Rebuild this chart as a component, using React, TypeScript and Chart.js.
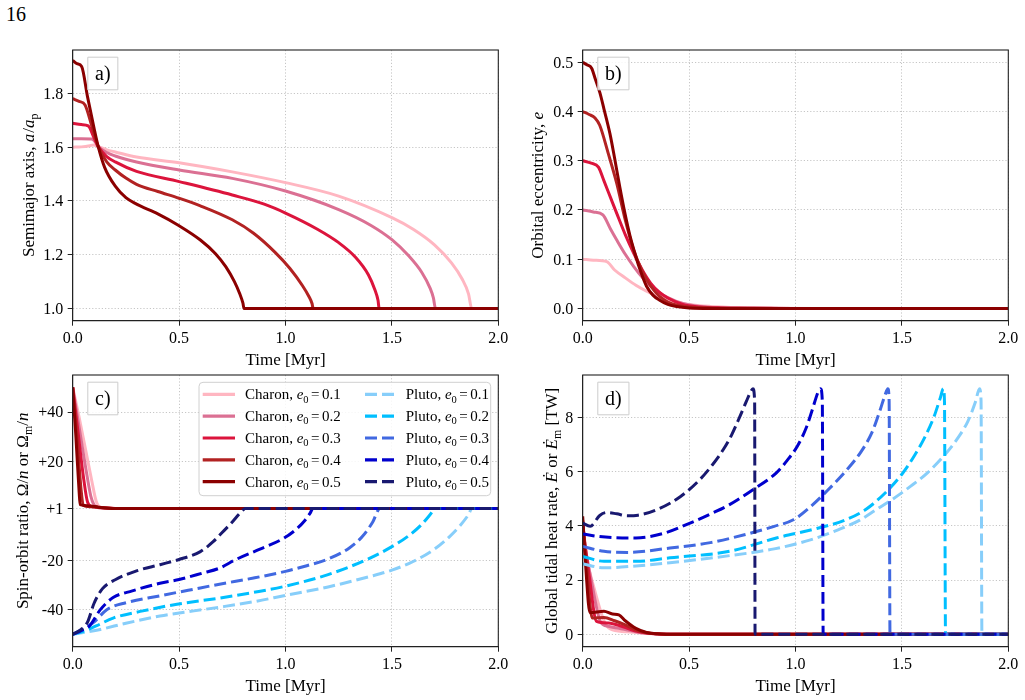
import React, { useEffect, useRef } from 'react';
import { Chart, registerables } from 'chart.js';

Chart.register(...registerables);

const FONT = "'Liberation Serif', 'Times New Roman', Times, serif";
Chart.defaults.font.family = FONT;

// ---------------- data ----------------
const E0_LABELS = ['0.1', '0.2', '0.3', '0.4', '0.5'];
const CHARON_COLORS = ['#FFB6C1', '#DB7093', '#DC143C', '#B22222', '#8B0000'];
const PLUTO_COLORS = ['#87CEFA', '#00BFFF', '#4169E1', '#0000CD', '#191970'];

const X_TICKS = [0, 0.5, 1, 1.5, 2];
const A_TICKS = [1.0, 1.2, 1.4, 1.6, 1.8];
const ECC_TICKS = [0, 0.1, 0.2, 0.3, 0.4, 0.5];
const SPIN_TICKS = [-40, -20, 1, 20, 40];
const HEAT_TICKS = [0, 2, 4, 6, 8];

// a) semimajor axis (Charon, e0 = 0.1 .. 0.5)
const SEMI_T = [
  [0, 0.04, 0.08, 0.097, 0.12, 0.16, 0.2, 0.3, 0.5, 0.75, 1.0, 1.25, 1.5, 1.6, 1.7, 1.78, 1.83, 1.86, 1.875, 2.0],
  [0, 0.04, 0.089, 0.105, 0.12, 0.16, 0.2, 0.3, 0.5, 0.75, 1.0, 1.25, 1.4, 1.5, 1.58, 1.64, 1.68, 1.695, 1.705, 2.0],
  [0, 0.04, 0.073, 0.1, 0.12, 0.16, 0.2, 0.3, 0.5, 0.75, 0.9, 1.0, 1.15, 1.25, 1.33, 1.39, 1.42, 1.435, 1.44, 2.0],
  [0, 0.03, 0.058, 0.09, 0.12, 0.16, 0.2, 0.25, 0.3, 0.4, 0.5, 0.6, 0.75, 0.85, 0.95, 1.02, 1.08, 1.11, 1.125, 1.13, 2.0],
  [0, 0.02, 0.042, 0.07, 0.1, 0.12, 0.15, 0.2, 0.25, 0.3, 0.4, 0.5, 0.6, 0.67, 0.72, 0.76, 0.785, 0.8, 0.805, 2.0],
];
const SEMI_A = [
  [1.6, 1.601, 1.605, 1.608, 1.602, 1.59, 1.582, 1.563, 1.542, 1.508, 1.468, 1.418, 1.338, 1.295, 1.237, 1.17, 1.11, 1.055, 1.0, 1.0],
  [1.631, 1.631, 1.63, 1.62, 1.602, 1.58, 1.567, 1.545, 1.515, 1.484, 1.437, 1.368, 1.31, 1.256, 1.195, 1.135, 1.075, 1.04, 1.0, 1.0],
  [1.689, 1.684, 1.679, 1.635, 1.602, 1.565, 1.545, 1.51, 1.472, 1.422, 1.388, 1.355, 1.295, 1.245, 1.19, 1.125, 1.07, 1.03, 1.0, 1.0],
  [1.78, 1.77, 1.757, 1.678, 1.602, 1.545, 1.515, 1.485, 1.462, 1.435, 1.41, 1.382, 1.33, 1.28, 1.21, 1.15, 1.085, 1.045, 1.018, 1.0, 1.0],
  [1.922, 1.91, 1.9, 1.786, 1.672, 1.602, 1.525, 1.455, 1.412, 1.388, 1.352, 1.308, 1.255, 1.205, 1.155, 1.1, 1.055, 1.02, 1.0, 1.0],
];

// b) orbital eccentricity
const ECC_T = [
  [0, 0.05, 0.113, 0.15, 0.2, 0.25, 0.3, 0.35, 0.4, 0.5, 0.6, 0.75, 0.9, 1.1, 2.0],
  [0, 0.05, 0.095, 0.13, 0.16, 0.2, 0.24, 0.28, 0.32, 0.36, 0.4, 0.47, 0.55, 0.65, 0.8, 1.0, 2.0],
  [0, 0.04, 0.074, 0.1, 0.13, 0.16, 0.2, 0.24, 0.28, 0.32, 0.36, 0.4, 0.47, 0.55, 0.65, 0.8, 1.0, 2.0],
  [0, 0.03, 0.058, 0.08, 0.12, 0.16, 0.2, 0.24, 0.28, 0.32, 0.36, 0.4, 0.45, 0.5, 0.6, 0.75, 1.0, 2.0],
  [0, 0.02, 0.042, 0.06, 0.081, 0.1, 0.128, 0.15, 0.175, 0.2, 0.222, 0.25, 0.27, 0.3, 0.33, 0.36, 0.4, 0.44, 0.5, 0.6, 1.0, 2.0],
];
const ECC_E = [
  [0.1, 0.098, 0.095, 0.078, 0.062, 0.047, 0.035, 0.025, 0.017, 0.008, 0.004, 0.0015, 0.0005, 0, 0],
  [0.2, 0.196, 0.19, 0.162, 0.139, 0.11, 0.085, 0.063, 0.045, 0.032, 0.022, 0.01, 0.004, 0.0015, 0.0004, 0, 0],
  [0.3, 0.295, 0.287, 0.259, 0.226, 0.193, 0.15, 0.112, 0.078, 0.051, 0.033, 0.021, 0.008, 0.003, 0.001, 0.0003, 0, 0],
  [0.4, 0.394, 0.387, 0.372, 0.315, 0.254, 0.18, 0.118, 0.075, 0.045, 0.025, 0.013, 0.006, 0.003, 0.001, 0.0002, 0, 0],
  [0.5, 0.495, 0.488, 0.465, 0.438, 0.405, 0.355, 0.305, 0.245, 0.19, 0.148, 0.105, 0.078, 0.045, 0.027, 0.017, 0.008, 0.004, 0.001, 0, 0, 0],
];

// c) spin-orbit ratio
const SPIN_C_T = [
  [0, 0.03, 0.06, 0.09, 0.11, 0.13, 0.2, 2.0],
  [0, 0.03, 0.06, 0.085, 0.1, 0.12, 0.2, 2.0],
  [0, 0.025, 0.05, 0.07, 0.09, 0.15, 0.2, 2.0],
  [0, 0.02, 0.04, 0.05, 0.1, 0.2, 2.0],
  [0, 0.015, 0.03, 0.035, 0.08, 0.12, 0.2, 2.0],
];
const SPIN_C_V = [
  [50, 38, 25, 12, 4, 1.5, 1, 1],
  [50, 34, 18, 6, 2.5, 1.3, 1, 1],
  [50, 32, 14, 3.5, 1.8, 1.2, 1, 1],
  [50, 30, 8, 2.2, 1.6, 1, 1],
  [50, 30, 8, 2.5, 2.0, 1.5, 1, 1],
];
const SPIN_P_T = [
  [0, 0.05, 0.13, 0.25, 0.41, 0.57, 0.69, 0.85, 1.0, 1.2, 1.4, 1.5, 1.6, 1.7, 1.77, 1.82, 1.86, 1.876, 2.0],
  [0, 0.05, 0.11, 0.19, 0.33, 0.49, 0.69, 0.85, 1.0, 1.2, 1.38, 1.5, 1.58, 1.64, 1.68, 1.705, 2.0],
  [0, 0.05, 0.1, 0.16, 0.25, 0.41, 0.57, 0.69, 0.85, 1.0, 1.1, 1.2, 1.3, 1.36, 1.41, 1.444, 2.0],
  [0, 0.04, 0.08, 0.13, 0.19, 0.28, 0.41, 0.5, 0.61, 0.69, 0.76, 0.88, 0.99, 1.05, 1.09, 1.115, 1.13, 2.0],
  [0, 0.04, 0.07, 0.1, 0.14, 0.2, 0.3, 0.41, 0.5, 0.6, 0.66, 0.7, 0.75, 0.78, 0.8, 0.81, 2.0],
];
const SPIN_P_V = [
  [-50, -49.3, -48, -45.5, -42.6, -40.5, -39, -36.8, -34.2, -30.8, -26.5, -24, -20.5, -15.5, -10.5, -6, -1.5, 1, 1],
  [-50, -48.8, -46.6, -43.4, -40.5, -37.8, -35.3, -33, -30.5, -25.8, -19.8, -14.5, -10, -5.5, -1.5, 1, 1],
  [-50, -47.8, -45, -40, -37.2, -34.4, -31.7, -29.7, -27.2, -24.5, -22.2, -19.5, -15, -10.5, -4.5, 1, 1],
  [-50, -48.5, -46.5, -40, -35.1, -32.4, -29.3, -27.8, -25.2, -23.2, -20, -15.5, -11.2, -7.5, -4, -1, 1, 1],
  [-50, -48, -45, -37.5, -31.5, -27.9, -24.3, -21.8, -19.7, -16.5, -12.5, -9, -4.5, -1.5, 0.3, 1, 1],
];

// d) global tidal heat rate [TW]
const HEAT_C_T = [
  [0, 0.05, 0.1, 0.13, 0.2, 0.3, 0.4, 2.0],
  [0, 0.04, 0.085, 0.12, 0.2, 0.26, 0.32, 0.45, 2.0],
  [0, 0.03, 0.065, 0.12, 0.19, 0.25, 0.3, 0.35, 0.45, 2.0],
  [0, 0.02, 0.045, 0.1, 0.15, 0.2, 0.25, 0.3, 0.35, 0.45, 2.0],
  [0, 0.015, 0.034, 0.1, 0.14, 0.17, 0.2, 0.25, 0.3, 0.35, 0.45, 2.0],
];
const HEAT_C_E = [
  [3.3, 1.8, 0.5, 0.2, 0.1, 0.03, 0, 0],
  [3.7, 2.0, 0.45, 0.3, 0.18, 0.08, 0.03, 0, 0],
  [4.0, 2.2, 0.48, 0.42, 0.28, 0.12, 0.05, 0.015, 0, 0],
  [4.2, 2.4, 0.6, 0.62, 0.5, 0.35, 0.16, 0.06, 0.02, 0, 0],
  [4.35, 2.4, 0.8, 0.85, 0.75, 0.72, 0.5, 0.22, 0.07, 0.02, 0, 0],
];
const HEAT_P_T = [
  [0, 0.1, 0.25, 0.41, 0.69, 0.9, 1.07, 1.2, 1.3, 1.38, 1.46, 1.54, 1.62, 1.7, 1.76, 1.81, 1.845, 1.865, 1.872, 1.876, 2.0],
  [0, 0.1, 0.25, 0.41, 0.69, 0.91, 1.1, 1.23, 1.33, 1.42, 1.5, 1.56, 1.61, 1.65, 1.68, 1.695, 1.7, 1.705, 2.0],
  [0, 0.1, 0.21, 0.41, 0.6, 0.76, 0.9, 0.99, 1.07, 1.15, 1.24, 1.31, 1.36, 1.395, 1.42, 1.434, 1.44, 1.444, 2.0],
  [0, 0.07, 0.15, 0.25, 0.38, 0.49, 0.61, 0.69, 0.8, 0.91, 0.96, 1.01, 1.05, 1.08, 1.105, 1.118, 1.126, 1.13, 2.0],
  [0, 0.035, 0.08, 0.113, 0.16, 0.21, 0.26, 0.35, 0.46, 0.55, 0.61, 0.66, 0.7, 0.74, 0.77, 0.79, 0.8, 0.808, 0.81, 2.0],
];
const HEAT_P_E = [
  [2.6, 2.45, 2.52, 2.64, 2.9, 3.15, 3.48, 3.85, 4.2, 4.6, 5.0, 5.45, 5.95, 6.6, 7.2, 7.85, 8.55, 9.05, 8.6, 0, 0],
  [2.87, 2.69, 2.69, 2.82, 3.06, 3.55, 3.9, 4.2, 4.6, 5.2, 5.9, 6.6, 7.3, 8.0, 8.7, 9.05, 8.6, 0, 0],
  [3.24, 3.06, 3.02, 3.18, 3.38, 3.67, 3.98, 4.22, 4.7, 5.3, 6.05, 6.75, 7.45, 8.2, 8.8, 9.05, 8.6, 0, 0],
  [3.7, 3.61, 3.56, 3.55, 3.72, 4.05, 4.47, 4.78, 5.33, 5.95, 6.4, 6.95, 7.6, 8.3, 8.9, 9.05, 8.6, 0, 0],
  [4.1, 3.98, 4.38, 4.49, 4.44, 4.37, 4.39, 4.6, 5.08, 5.7, 6.25, 6.8, 7.35, 8.05, 8.6, 8.95, 9.05, 8.6, 0, 0],
];

// ---------------- helpers ----------------
type Seg = { t: string; it?: boolean; sub?: boolean; gl?: number; gr?: number };

function segFont(s: Seg, size: number) {
  return `${s.it ? 'italic ' : ''}${s.sub ? size * 0.7 : size}px ${FONT}`;
}
function richWidth(ctx: CanvasRenderingContext2D, segs: Seg[], size: number) {
  let w = 0;
  for (const s of segs) {
    ctx.font = segFont(s, size);
    w += (s.gl || 0) + ctx.measureText(s.t).width + (s.gr || 0);
  }
  return w;
}
function drawRich(
  ctx: CanvasRenderingContext2D, segs: Seg[], x: number, y: number, size: number,
  rot = 0, align: 'left' | 'center' | 'right' = 'center'
) {
  ctx.save();
  ctx.translate(x, y);
  if (rot) ctx.rotate(rot);
  ctx.textBaseline = 'alphabetic';
  ctx.textAlign = 'left';
  ctx.fillStyle = '#000';
  const w = richWidth(ctx, segs, size);
  let cx = align === 'center' ? -w / 2 : align === 'right' ? -w : 0;
  for (const s of segs) {
    cx += s.gl || 0;
    ctx.font = segFont(s, size);
    ctx.fillText(s.t, cx, s.sub ? size * 0.22 : 0);
    cx += ctx.measureText(s.t).width + (s.gr || 0);
  }
  ctx.restore();
}

const pts = (ts: number[], vs: number[]) => ts.map((t, i) => ({ x: t, y: vs[i] }));

function charonSets(T: number[][], V: number[][]) {
  return T.map((ts, i) => ({
    label: `Charon ${E0_LABELS[i]}`,
    data: pts(ts, V[i]),
    borderColor: CHARON_COLORS[i],
    borderWidth: 3,
    pointRadius: 0,
    fill: false,
    cubicInterpolationMode: 'monotone' as const,
    order: 20 - i,
  }));
}
function plutoSets(T: number[][], V: number[][]) {
  return T.map((ts, i) => ({
    label: `Pluto ${E0_LABELS[i]}`,
    data: pts(ts, V[i]),
    borderColor: PLUTO_COLORS[i],
    borderWidth: 3,
    borderDash: [12, 5],
    pointRadius: 0,
    fill: false,
    cubicInterpolationMode: 'monotone' as const,
    order: 10 - i,
  }));
}

interface PanelCfg {
  left: number; top: number; width: number; height: number;
  padTop: number; padRight: number; yWidth: number; xHeight: number;
  yMin: number; yMax: number; yTicks: number[]; yFmt: (v: number) => string;
  letter: string; ylabel: Seg[]; yBase: number; legend?: boolean;
  datasets: any[];
}

const TIME_LABEL: Seg[] = [{ t: 'Time [Myr]' }];

const PANELS: PanelCfg[] = [
  {
    left: 0, top: 40, width: 512, height: 330, padTop: 10, padRight: 13.7, yWidth: 72.7, xHeight: 49.3,
    yMin: 0.955, yMax: 1.961, yTicks: A_TICKS, yFmt: (v) => v.toFixed(1), letter: 'a)',
    ylabel: [{ t: 'Semimajor axis, ' }, { t: 'a', it: true, gr: 1 }, { t: '/' }, { t: 'a', it: true }, { t: 'p', sub: true }],
    yBase: -38.4,
    datasets: charonSets(SEMI_T, SEMI_A),
  },
  {
    left: 512, top: 40, width: 513, height: 330, padTop: 10, padRight: 16.7, yWidth: 70.7, xHeight: 49.3,
    yMin: -0.025, yMax: 0.525, yTicks: ECC_TICKS, yFmt: (v) => v.toFixed(1), letter: 'b)',
    ylabel: [{ t: 'Orbital eccentricity, ' }, { t: 'e', it: true }],
    yBase: -39.4,
    datasets: charonSets(ECC_T, ECC_E),
  },
  {
    left: 0, top: 370, width: 512, height: 330, padTop: 5, padRight: 13.7, yWidth: 72.7, xHeight: 53.3,
    yMin: -55, yMax: 55, yTicks: SPIN_TICKS, yFmt: (v) => (v > 0 ? '+' + v : String(v)), letter: 'c)',
    ylabel: [
      { t: 'Spin-orbit ratio, ' }, { t: 'Ω' }, { t: '/' }, { t: 'n', it: true }, { t: ' or ' },
      { t: 'Ω' }, { t: 'm', sub: true }, { t: '/' }, { t: 'n', it: true },
    ],
    yBase: -44.7, legend: true,
    datasets: [...charonSets(SPIN_C_T, SPIN_C_V), ...plutoSets(SPIN_P_T, SPIN_P_V)],
  },
  {
    left: 512, top: 370, width: 513, height: 330, padTop: 5, padRight: 16.7, yWidth: 70.7, xHeight: 53.3,
    yMin: -0.455, yMax: 9.555, yTicks: HEAT_TICKS, yFmt: (v) => String(v), letter: 'd)',
    ylabel: [
      { t: 'Global tidal heat rate, ' }, { t: 'Ė', it: true }, { t: ' or ' }, { t: 'Ė', it: true },
      { t: 'm', sub: true }, { t: ' [TW]' },
    ],
    yBase: -25.3,
    datasets: [...charonSets(HEAT_C_T, HEAT_C_E), ...plutoSets(HEAT_P_T, HEAT_P_E)],
  },
];

const GRID_COLOR = '#b8b8b8';
const AXIS_COLOR = '#222';
const TICK_SIZE = 16;

function makeDecor(cfg: PanelCfg) {
  return {
    id: 'decor',
    afterDraw(chart: any) {
      const ctx: CanvasRenderingContext2D = chart.ctx;
      const a = chart.chartArea;
      const xs = chart.scales.x;
      const ys = chart.scales.y;
      // frame
      ctx.save();
      ctx.strokeStyle = AXIS_COLOR;
      ctx.lineWidth = 1.1;
      ctx.strokeRect(a.left, a.top, a.right - a.left, a.bottom - a.top);
      ctx.restore();

      // tick labels
      for (const v of X_TICKS) {
        drawRich(ctx, [{ t: v.toFixed(1) }], xs.getPixelForValue(v), a.bottom + 22.3, TICK_SIZE);
      }
      for (const v of cfg.yTicks) {
        drawRich(ctx, [{ t: cfg.yFmt(v) }], a.left - 9.5, ys.getPixelForValue(v) + 5.4, TICK_SIZE, 0, 'right');
      }

      // x title
      drawRich(ctx, TIME_LABEL, (a.left + a.right) / 2, a.bottom + 44, 17);
      // y title
      drawRich(ctx, cfg.ylabel, a.left + cfg.yBase, (a.top + a.bottom) / 2, 17, -Math.PI / 2);

      // panel letter
      ctx.save();
      ctx.font = `20px ${FONT}`;
      const tw = ctx.measureText(cfg.letter).width;
      const bx = a.left + 14.6;
      const by = a.top + 6.7;
      const bw = tw + 14.5;
      const bh = 32.6;
      ctx.fillStyle = 'rgba(255,255,255,0.85)';
      ctx.strokeStyle = '#cccccc';
      ctx.lineWidth = 1;
      ctx.beginPath();
      ctx.rect(bx + 0.5, by + 0.5, bw, bh);
      ctx.fill();
      ctx.stroke();
      ctx.fillStyle = '#000';
      ctx.textAlign = 'center';
      ctx.textBaseline = 'alphabetic';
      ctx.fillText(cfg.letter, bx + bw / 2 + 0.5, by + 22.8);
      ctx.restore();

      if (cfg.legend) {
        const lx = a.left + 126.3;
        const ly = a.top + 7.3;
        const lw = 418 - 126.3;
        const lh = 120.7 - 7.3;
        ctx.save();
        ctx.fillStyle = 'rgba(255,255,255,0.85)';
        ctx.strokeStyle = '#d0d0d0';
        ctx.lineWidth = 1;
        ctx.beginPath();
        const r = 4;
        ctx.moveTo(lx + r, ly);
        ctx.lineTo(lx + lw - r, ly);
        ctx.quadraticCurveTo(lx + lw, ly, lx + lw, ly + r);
        ctx.lineTo(lx + lw, ly + lh - r);
        ctx.quadraticCurveTo(lx + lw, ly + lh, lx + lw - r, ly + lh);
        ctx.lineTo(lx + r, ly + lh);
        ctx.quadraticCurveTo(lx, ly + lh, lx, ly + lh - r);
        ctx.lineTo(lx, ly + r);
        ctx.quadraticCurveTo(lx, ly, lx + r, ly);
        ctx.closePath();
        ctx.fill();
        ctx.stroke();
        for (let i = 0; i < 5; i++) {
          const ry = a.top + 19.3 + 21.85 * i;
          ctx.setLineDash([]);
          ctx.strokeStyle = CHARON_COLORS[i];
          ctx.lineWidth = 3.2;
          ctx.beginPath();
          ctx.moveTo(a.left + 130, ry);
          ctx.lineTo(a.left + 162.3, ry);
          ctx.stroke();
          drawRich(ctx, [{ t: 'Charon, ' }, { t: 'e', it: true }, { t: '0', sub: true }, { t: '=', gl: 2.5, gr: 2.5 }, { t: E0_LABELS[i] }], a.left + 172.3, ry + 5, 15, 0, 'left');
          ctx.setLineDash([12, 5]);
          ctx.strokeStyle = PLUTO_COLORS[i];
          ctx.lineWidth = 3.2;
          ctx.beginPath();
          ctx.moveTo(a.left + 292.3, ry);
          ctx.lineTo(a.left + 321.3, ry);
          ctx.stroke();
          ctx.setLineDash([]);
          drawRich(ctx, [{ t: 'Pluto, ' }, { t: 'e', it: true }, { t: '0', sub: true }, { t: '=', gl: 2.5, gr: 2.5 }, { t: E0_LABELS[i] }], a.left + 333, ry + 5, 15, 0, 'left');
        }
        ctx.restore();
      }
    },
  };
}

function Panel({ cfg }: { cfg: PanelCfg }) {
  const ref = useRef<HTMLCanvasElement>(null);
  useEffect(() => {
    const canvas = ref.current!;
    const chart = new Chart(canvas, {
      type: 'line',
      data: { datasets: cfg.datasets },
      options: {
        responsive: false,
        maintainAspectRatio: false,
        animation: false,
        devicePixelRatio: 1,
        events: [],
        layout: { padding: { top: cfg.padTop, right: cfg.padRight, left: 0, bottom: 0 } },
        plugins: { legend: { display: false }, tooltip: { enabled: false }, title: { display: false } },
        scales: {
          x: {
            type: 'linear',
            min: 0,
            max: 2,
            afterBuildTicks: (s: any) => { s.ticks = X_TICKS.map((v) => ({ value: v })); },
            afterFit: (s: any) => {
              s.height = cfg.xHeight;
              s.paddingLeft = 0; s.paddingRight = 0; s.paddingTop = 0; s.paddingBottom = 0;
            },
            ticks: { display: false, autoSkip: false, maxRotation: 0 },
            grid: { color: GRID_COLOR, lineWidth: 0.8, tickLength: 5, tickColor: AXIS_COLOR, tickWidth: 1 },
            border: { display: true, color: AXIS_COLOR, width: 1, dash: [1.2, 2] },
          },
          y: {
            type: 'linear',
            min: cfg.yMin,
            max: cfg.yMax,
            afterBuildTicks: (s: any) => { s.ticks = cfg.yTicks.map((v) => ({ value: v })); },
            afterFit: (s: any) => {
              s.width = cfg.yWidth;
              s.paddingLeft = 0; s.paddingRight = 0; s.paddingTop = 0; s.paddingBottom = 0;
            },
            ticks: { display: false, autoSkip: false },
            grid: { color: GRID_COLOR, lineWidth: 0.8, tickLength: 5, tickColor: AXIS_COLOR, tickWidth: 1 },
            border: { display: true, color: AXIS_COLOR, width: 1, dash: [1.2, 2] },
          },
        },
      } as any,
      plugins: [makeDecor(cfg)],
    });
    return () => chart.destroy();
  }, [cfg]);
  return (
    <canvas
      ref={ref}
      width={cfg.width}
      height={cfg.height}
      style={{ position: 'absolute', left: cfg.left, top: cfg.top, width: cfg.width, height: cfg.height }}
    />
  );
}

export default function App() {
  return (
    <div style={{ position: 'absolute', left: 0, top: 0, width: 1025, height: 700, overflow: 'hidden', background: '#fff' }}>
      <div style={{ position: 'absolute', left: 6, top: 3.8, fontFamily: FONT, fontSize: 20, lineHeight: '20px', color: '#000' }}>16</div>
      {PANELS.map((p, i) => (
        <Panel key={i} cfg={p} />
      ))}
    </div>
  );
}
